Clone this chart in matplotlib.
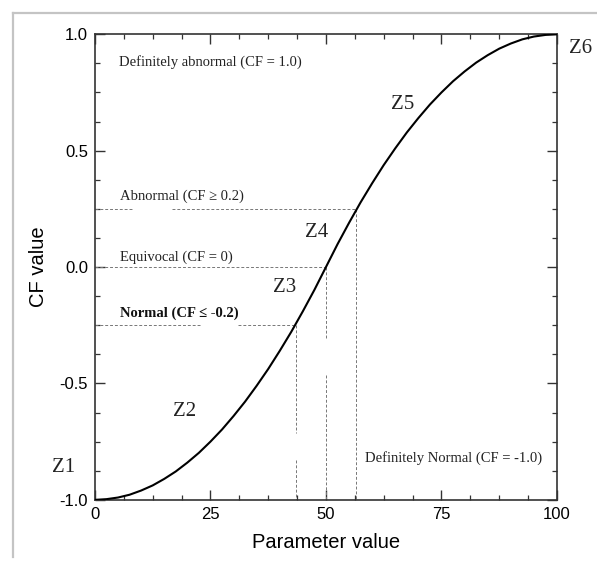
import matplotlib
matplotlib.use("Agg")
import matplotlib.pyplot as plt
from matplotlib.lines import Line2D
from matplotlib.ticker import MultipleLocator

# curve
param = [0, 2.5, 5, 7.5, 10, 12.5, 15, 17.5, 20, 22.5, 25, 27.5, 30, 32.5, 35,
         37.5, 40, 42.5, 45, 47.5, 50, 52.5, 55, 57.5, 60, 62.5, 65, 67.5, 70,
         72.5, 75, 77.5, 80, 82.5, 85, 87.5, 90, 92.5, 95, 97.5, 100]
cf = [-1.0, -0.997, -0.99, -0.978, -0.96, -0.938, -0.91, -0.878, -0.84, -0.798,
      -0.75, -0.698, -0.64, -0.578, -0.51, -0.438, -0.36, -0.278, -0.19, -0.098,
      0.0, 0.098, 0.19, 0.278, 0.36, 0.438, 0.51, 0.578, 0.64, 0.698,
      0.75, 0.798, 0.84, 0.878, 0.91, 0.938, 0.96, 0.978, 0.99, 0.997, 1.0]

# threshold guide lines (x where the curve crosses each level)
levels = [0.25, 0.0, -0.25]
level_x = [56.4, 50, 43.6]

zone_labels = ["Z1", "Z2", "Z3", "Z4", "Z5", "Z6"]
zone_x = [-6.8, 19.5, 41, 48, 66.5, 105]
zone_y = [-0.86, -0.62, -0.09, 0.15, 0.70, 0.94]

fig = plt.figure(figsize=(5.97, 5.61), dpi=100)
ax = fig.add_axes([0.159, 0.109, 0.774, 0.830])

serif = "Liberation Serif"
sans = "Liberation Sans"
dash = dict(color="#777777", lw=0.7, ls=(0, (3, 2)))

# horizontal guides (with gaps like the original)
ax.plot([0, 8.2], [levels[0]] * 2, **dash)
ax.plot([16.7, level_x[0]], [levels[0]] * 2, **dash)
ax.plot([0, level_x[1]], [levels[1]] * 2, **dash)
ax.plot([0, 23], [levels[2]] * 2, **dash)
ax.plot([31, level_x[2]], [levels[2]] * 2, **dash)

# vertical guides
ax.plot([level_x[0]] * 2, [levels[0], -1], **dash)
ax.plot([level_x[1]] * 2, [levels[1], -0.305], **dash)
ax.plot([level_x[1]] * 2, [-0.465, -1], **dash)
ax.plot([level_x[2]] * 2, [levels[2], -0.712], **dash)
ax.plot([level_x[2]] * 2, [-0.828, -1], **dash)

ax.plot(param, cf, color="black", lw=1.5, zorder=3)

ax.set_xlim(0, 100)
ax.set_ylim(-1, 1)
ax.xaxis.set_major_locator(MultipleLocator(25))
ax.xaxis.set_minor_locator(MultipleLocator(6.25))
ax.yaxis.set_major_locator(MultipleLocator(0.5))
ax.yaxis.set_minor_locator(MultipleLocator(0.125))
ax.tick_params(which="both", direction="in", top=True, right=True, color="#333333")
ax.tick_params(which="major", length=7, width=1.0, pad=5, labelsize=12)
ax.tick_params(which="minor", length=3.6, width=0.9)
for sp in ax.spines.values():
    sp.set_linewidth(1.2)
    sp.set_color("#333333")

ax.set_xticks([0, 25, 50, 75, 100])
ax.set_xticklabels(["0", "25", "50", "75", "100"], fontfamily=sans)
ax.set_yticks([-1, -0.5, 0, 0.5, 1])
ax.set_yticklabels(["-1.0", "-0.5", "0.0", "0.5", "1.0"], fontfamily=sans)

ax.set_xlabel("Parameter value", fontfamily=sans, fontsize=14.5, labelpad=8)
ax.set_ylabel("CF value", fontfamily=sans, fontsize=14.5, labelpad=8)

tfs = 10.5
ax.text(5.2, 0.88, "Definitely abnormal (CF = 1.0)", fontfamily=serif, fontsize=tfs,
        va="center", color="#222222")
ax.text(5.5, 0.305, "Abnormal (CF \u2265 0.2)", fontfamily=serif, fontsize=tfs,
        va="center", color="#222222")
ax.text(5.5, 0.043, "Equivocal (CF = 0)", fontfamily=serif, fontsize=tfs,
        va="center", color="#222222")
ax.text(5.5, -0.197, "Normal (CF \u2264 -0.2)", fontfamily=serif, fontsize=tfs,
        va="center", color="#111111", fontweight="bold")
ax.text(58.4, -0.82, "Definitely Normal (CF = -1.0)", fontfamily=serif, fontsize=tfs,
        va="center", color="#222222")

for lab, zx, zy in zip(zone_labels, zone_x, zone_y):
    ax.text(zx, zy, lab, fontfamily=serif, fontsize=15, ha="center", va="center",
            clip_on=False, color="#222222")

# grey frame lines at top and left of the picture
fig.add_artist(Line2D([13 / 597, 1], [1 - 13 / 561] * 2, color="#c4c4c4", lw=1.6,
                      transform=fig.transFigure))
fig.add_artist(Line2D([13 / 597] * 2, [1 - 13 / 561, 1 - 557 / 561], color="#c4c4c4",
                      lw=1.6, transform=fig.transFigure))

fig.savefig("out.png", dpi=100)
